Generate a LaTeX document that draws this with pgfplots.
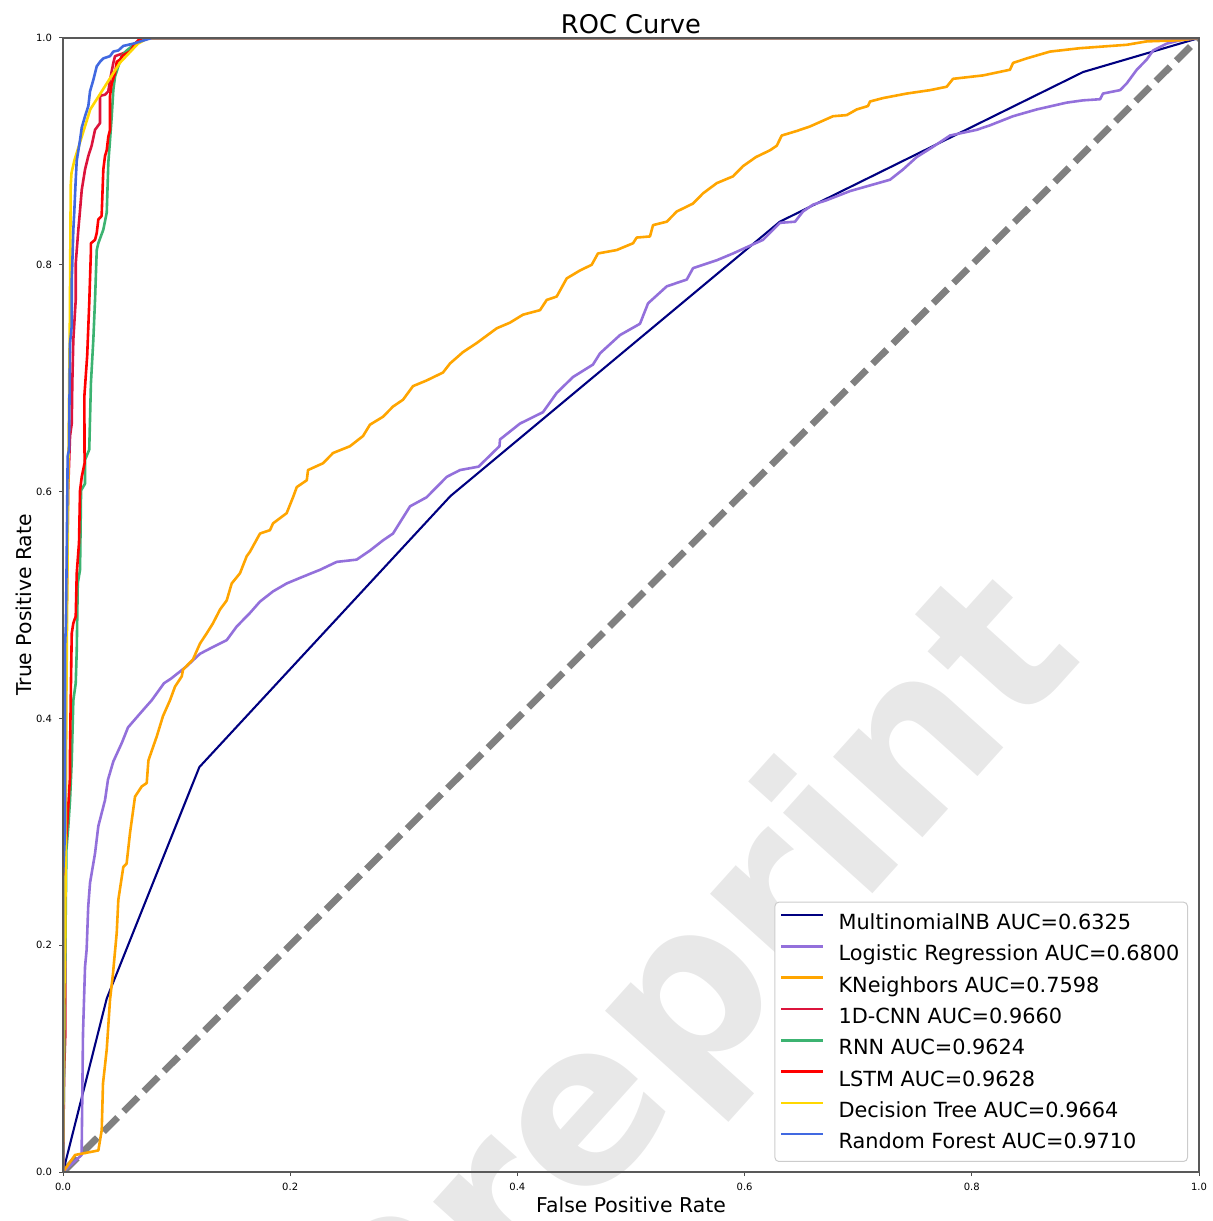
\documentclass[border=0pt]{standalone}
\usepackage{fontspec}
\setmainfont{DejaVu Sans}
\usepackage{pgfplots}
\pgfplotsset{compat=1.18}

\definecolor{cNB}{HTML}{000080}
\definecolor{cLR}{HTML}{9370DB}
\definecolor{cKN}{HTML}{FFA500}
\definecolor{cCNN}{HTML}{DC143C}
\definecolor{cRNN}{HTML}{3CB371}
\definecolor{cLSTM}{HTML}{FF0000}
\definecolor{cDT}{HTML}{FFD700}
\definecolor{cRF}{HTML}{4169E1}

\begin{document}
\begin{tikzpicture}
\useasboundingbox (-31.5bp,-24.5bp) rectangle (575bp,586bp);
% watermark behind the axis
\node[rotate=48, text=black!9, inner sep=0pt,
      font=\fontsize{110bp}{110bp}\selectfont\bfseries] at (318bp,88bp) {Preprint};
\begin{axis}[
  scale only axis, width=568bp, height=567bp,
  xmin=0, xmax=1, ymin=0, ymax=1,
  axis on top,
  xtick={0,0.2,0.4,0.6,0.8,1}, ytick={0,0.2,0.4,0.6,0.8,1},
  tick pos=left, tick align=outside, major tick length=2bp,
  tick style={black!70, line width=0.5bp},
  axis line style={black!65, line width=0.8bp},
  ticklabel style={font=\fontsize{5bp}{6bp}\selectfont},
  /pgf/number format/fixed, /pgf/number format/fixed zerofill,
  /pgf/number format/precision=1, /pgf/number format/assume math mode=true,
  title={ROC Curve},
  title style={font=\fontsize{12.85bp}{15bp}\selectfont,
    at={(axis description cs:0.5,1)}, anchor=base, yshift=-3.5bp},
  xlabel={False Positive Rate},
  xlabel style={font=\fontsize{10.2bp}{12bp}\selectfont,
    at={([yshift=-20bp]axis description cs:0.5,0)}, anchor=base},
  ylabel={True Positive Rate},
  ylabel style={font=\fontsize{10.2bp}{12bp}\selectfont,
    at={([xshift=-16bp]axis description cs:0,0.5)}, anchor=base},
  legend cell align=left,
  legend style={at={([xshift=-5.5bp,yshift=5bp]axis description cs:1,0)},
    anchor=south east, font=\fontsize{10.42bp}{12bp}\selectfont,
    draw=black!20, line width=0.5bp, rounded corners=2bp, fill=white,
    inner xsep=2.5bp, inner ysep=2.2bp, column sep=5.5bp,
    nodes={inner xsep=1.5bp, inner ysep=2.5bp, text height=0.9em, text depth=0.17em}},
  legend image code/.code={\draw[#1] (0bp,0.365em) -- (21bp,0.365em);},
  every axis plot/.append style={line join=round},
]
\addplot[forget plot, color=gray, line width=3.4bp, dash pattern=on 10bp off 4.3bp]
  coordinates {(0,0)(1,1)};

% MultinomialNB
\addplot[color=cNB, line width=1.05bp] coordinates {
(0,0)(0.0385,0.153)(0.120,0.357)(0.341,0.596)(0.631,0.838)(0.898,0.970)(1,1)};
\addlegendentry{MultinomialNB AUC=0.6325}

% Logistic Regression
\addplot[color=cLR, line width=1.3bp] coordinates {
(0,0)(0.0164,0.015)(0.0176,0.122)(0.0194,0.181)(0.0208,0.196)(0.0222,0.234)(0.0238,0.255)
(0.0282,0.281)(0.0311,0.305)(0.0370,0.328)(0.0396,0.346)(0.0443,0.362)(0.0516,0.378)
(0.0572,0.392)(0.0693,0.406)(0.0781,0.416)(0.0889,0.431)(0.0950,0.435)(0.1089,0.446)
(0.1206,0.457)(0.1321,0.463)(0.1441,0.469)(0.1529,0.481)(0.1646,0.493)(0.1734,0.503)
(0.1849,0.512)(0.1969,0.519)(0.2113,0.525)(0.2262,0.531)(0.2409,0.538)(0.2585,0.540)
(0.2702,0.548)(0.2817,0.557)(0.2905,0.563)(0.3055,0.587)(0.3201,0.595)(0.3378,0.613)
(0.3495,0.619)(0.3658,0.622)(0.3842,0.640)(0.3847,0.646)(0.4023,0.660)(0.4225,0.670)
(0.4346,0.687)(0.4489,0.701)(0.4665,0.712)(0.4728,0.722)(0.4903,0.738)(0.5079,0.748)
(0.5150,0.766)(0.5315,0.781)(0.5491,0.787)(0.5546,0.797)(0.5755,0.804)(0.5898,0.810)
(0.6074,0.818)(0.6162,0.822)(0.6312,0.837)(0.6444,0.838)(0.6514,0.847)(0.6602,0.853)
(0.6723,0.857)(0.6928,0.865)(0.7104,0.870)(0.7280,0.875)(0.7394,0.884)(0.7515,0.895)
(0.7658,0.904)(0.7808,0.914)(0.8043,0.919)(0.8160,0.923)(0.8363,0.931)(0.8572,0.937)
(0.8835,0.943)(0.8979,0.945)(0.9129,0.946)(0.9155,0.951)(0.9305,0.954)(0.9364,0.960)
(0.9452,0.972)(0.9540,0.981)(0.9596,0.989)(0.9716,0.995)(0.9833,0.998)(1,1)};
\addlegendentry{Logistic Regression AUC=0.6800}

% KNeighbors
\addplot[color=cKN, line width=1.3bp] coordinates {
(0,0)(0.0106,0.015)(0.0311,0.019)(0.0341,0.037)(0.0352,0.078)(0.0385,0.108)(0.0414,0.152)
(0.0440,0.175)(0.0473,0.211)(0.0487,0.240)(0.0531,0.269)(0.0560,0.272)(0.0590,0.299)
(0.0634,0.331)(0.0693,0.340)(0.0737,0.343)(0.0752,0.363)(0.0825,0.384)(0.0880,0.402)
(0.0942,0.416)(0.0986,0.428)(0.1045,0.437)(0.1057,0.443)(0.1144,0.452)(0.1206,0.466)
(0.1265,0.475)(0.1321,0.484)(0.1382,0.496)(0.1441,0.504)(0.1485,0.519)(0.1558,0.528)
(0.1617,0.543)(0.1646,0.547)(0.1734,0.563)(0.1822,0.566)(0.1849,0.572)(0.1969,0.581)
(0.2025,0.595)(0.2058,0.604)(0.2146,0.610)(0.2157,0.619)(0.2289,0.625)(0.2377,0.634)
(0.2526,0.640)(0.2641,0.649)(0.2702,0.659)(0.2817,0.666)(0.2905,0.675)(0.2993,0.681)
(0.3081,0.693)(0.3201,0.698)(0.3345,0.705)(0.3407,0.713)(0.3521,0.723)(0.3642,0.731)
(0.3818,0.744)(0.3935,0.749)(0.4049,0.756)(0.4199,0.760)(0.4258,0.769)(0.4346,0.772)
(0.4434,0.788)(0.4551,0.795)(0.4654,0.800)(0.4709,0.810)(0.4874,0.813)(0.5018,0.819)
(0.5050,0.824)(0.5167,0.825)(0.5194,0.835)(0.5315,0.838)(0.5403,0.847)(0.5546,0.854)
(0.5634,0.863)(0.5755,0.872)(0.5898,0.878)(0.5986,0.887)(0.6100,0.895)(0.6224,0.901)
(0.6283,0.905)(0.6327,0.914)(0.6459,0.918)(0.6576,0.922)(0.6778,0.931)(0.6899,0.932)
(0.6987,0.937)(0.7086,0.940)(0.7104,0.944)(0.7218,0.947)(0.7427,0.951)(0.7632,0.954)
(0.7779,0.957)(0.7835,0.964)(0.8099,0.967)(0.8336,0.972)(0.8363,0.978)(0.8483,0.982)
(0.8688,0.988)(0.8952,0.991)(0.9364,0.994)(0.9540,0.997)(0.9833,0.998)(1,1)};
\addlegendentry{KNeighbors AUC=0.7598}

% 1D-CNN
\addplot[color=cCNN, line width=1.3bp] coordinates {
(0,0)(0.001,0.09)(0.002,0.12)(0.002,0.35)(0.003,0.48)(0.0045,0.60)(0.0062,0.649)
(0.0077,0.660)(0.0082,0.696)(0.0091,0.734)(0.0112,0.769)(0.0112,0.801)(0.0135,0.831)
(0.0150,0.848)(0.0165,0.866)(0.0194,0.884)(0.0223,0.896)(0.0252,0.905)(0.0282,0.919)
(0.0326,0.925)(0.0326,0.949)(0.0370,0.950)(0.0399,0.953)(0.0414,0.963)(0.0443,0.978)
(0.0458,0.984)(0.0516,0.986)(0.0590,0.989)(0.0619,0.994)(0.0678,0.998)(0.072,1)(1,1)};
\addlegendentry{1D-CNN AUC=0.9660}

% RNN
\addplot[color=cRNN, line width=1.3bp] coordinates {
(0,0)(0.001,0.10)(0.003,0.284)(0.0047,0.305)(0.0062,0.328)(0.0077,0.363)(0.0091,0.416)
(0.0112,0.431)(0.0121,0.460)(0.0130,0.519)(0.0150,0.531)(0.0159,0.601)(0.0194,0.607)
(0.0194,0.628)(0.0231,0.637)(0.0246,0.696)(0.0267,0.734)(0.0282,0.769)(0.0297,0.813)
(0.0311,0.819)(0.0355,0.831)(0.0385,0.846)(0.0399,0.890)(0.0414,0.910)(0.0429,0.931)
(0.0443,0.954)(0.0458,0.966)(0.0487,0.975)(0.0516,0.984)(0.0561,0.989)(0.0634,0.995)
(0.070,1)(1,1)};
\addlegendentry{RNN AUC=0.9624}

% LSTM
\addplot[color=cLSTM, line width=1.3bp] coordinates {
(0,0)(0.002,0.28)(0.0045,0.32)(0.0062,0.349)(0.0062,0.372)(0.0070,0.431)(0.0077,0.475)
(0.0091,0.484)(0.0112,0.490)(0.0121,0.528)(0.0141,0.555)(0.0150,0.601)(0.0165,0.613)
(0.0190,0.625)(0.0188,0.684)(0.0213,0.720)(0.0231,0.766)(0.0246,0.813)(0.0246,0.819)
(0.0282,0.822)(0.0297,0.828)(0.0311,0.840)(0.0340,0.843)(0.0355,0.884)(0.0370,0.896)
(0.0385,0.901)(0.0399,0.913)(0.0414,0.919)(0.0414,0.949)(0.0429,0.960)(0.0458,0.969)
(0.0473,0.979)(0.0502,0.981)(0.0530,0.985)(0.0590,0.988)(0.0634,0.995)(0.0663,0.998)
(0.070,1)(1,1)};
\addlegendentry{LSTM AUC=0.9628}

% Decision Tree
\addplot[color=cDT, line width=1.3bp] coordinates {
(0,0)(0.001,0.15)(0.002,0.21)(0.003,0.42)(0.0045,0.60)(0.006,0.75)(0.0068,0.87)
(0.0075,0.881)(0.010,0.892)(0.024,0.937)(0.050,0.978)(0.066,0.995)(0.075,1)(1,1)};
\addlegendentry{Decision Tree AUC=0.9664}

% Random Forest
\addplot[color=cRF, line width=1.3bp] coordinates {
(0,0)(0,0.26)(0.0018,0.30)(0.0018,0.463)(0.0026,0.484)(0.0035,0.566)(0.0041,0.631)
(0.0053,0.637)(0.0062,0.731)(0.0077,0.746)(0.0077,0.787)(0.0082,0.801)(0.0091,0.831)
(0.0099,0.846)(0.0112,0.875)(0.0121,0.892)(0.0150,0.910)(0.0165,0.921)(0.0194,0.931)
(0.0223,0.940)(0.0238,0.953)(0.0267,0.963)(0.0297,0.975)(0.0326,0.979)(0.0355,0.982)
(0.0414,0.984)(0.0443,0.988)(0.0487,0.989)(0.0531,0.993)(0.0619,0.995)(0.078,1)(1,1)};
\addlegendentry{Random Forest AUC=0.9710}
\end{axis}
\end{tikzpicture}
\end{document}
